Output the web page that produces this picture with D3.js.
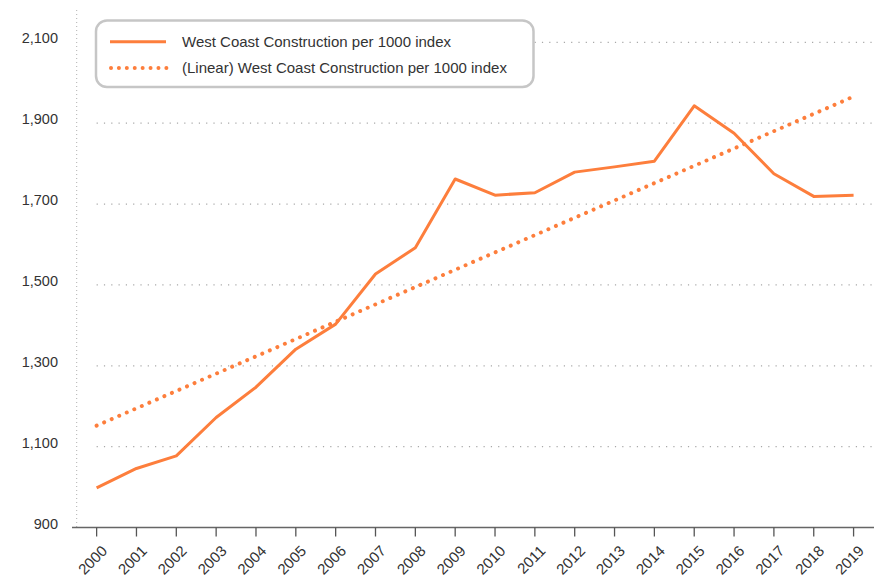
<!DOCTYPE html>
<html>
<head>
<meta charset="utf-8">
<script src="https://cdn.jsdelivr.net/npm/d3@7"></script>
<style>
  html, body { margin: 0; padding: 0; background: #fff; }
  svg { display: block; font-family: "Liberation Sans", Arial, Helvetica, sans-serif; }
</style>
</head>
<body>
<svg id="chart" width="876" height="579"></svg>
<script>
const years = ["2000","2001","2002","2003","2004","2005","2006","2007","2008","2009",
               "2010","2011","2012","2013","2014","2015","2016","2017","2018","2019"];
const values = [998, 1046, 1077, 1172, 1247, 1341, 1403, 1527, 1592, 1762,
                1722, 1728, 1779, 1792, 1806, 1943, 1875, 1775, 1719, 1722];
const trendYears = ["2000", "2019"];
const trendValues = [1152, 1966];
const yTicks = [900, 1100, 1300, 1500, 1700, 1900, 2100];
const seriesName = "West Coast Construction per 1000 index";
const trendName = "(Linear) West Coast Construction per 1000 index";

const color = "#fd7e3c";
const svg = d3.select("#chart");

const plotLeft = 76.7, plotRight = 873.5, plotTop = 10, plotBottom = 527.5;

const x = d3.scalePoint().domain(years).range([plotLeft, plotRight]).padding(0.5);
const y = d3.scaleLinear().domain([900, 2180]).range([plotBottom, plotTop]);

// gridlines
svg.append("g").selectAll("line").data(yTicks.filter(d => d > 900)).join("line")
  .attr("x1", x(years[0])).attr("x2", 876)
  .attr("y1", d => y(d)).attr("y2", d => y(d))
  .attr("stroke", "#a8a8a8").attr("stroke-width", 1.2)
  .attr("stroke-dasharray", "1.2 6.1");

// vertical dotted axis line
svg.append("line")
  .attr("x1", plotLeft).attr("x2", plotLeft).attr("y1", plotTop).attr("y2", plotBottom)
  .attr("stroke", "#b0b0b0").attr("stroke-width", 1)
  .attr("stroke-dasharray", "1 3");

// y labels
svg.append("g").selectAll("text").data(yTicks).join("text")
  .attr("x", 58).attr("y", d => y(d) - 4)
  .attr("dy", "0.35em")
  .attr("text-anchor", "end")
  .attr("font-size", 14.5).attr("fill", "#333")
  .text(d => d3.format(",")(d));

// x axis
const xAxis = svg.append("g").attr("transform", `translate(0,${plotBottom})`);
xAxis.append("line").attr("x1", 72).attr("x2", 874).attr("y1", 0).attr("y2", 0)
  .attr("stroke", "#666").attr("stroke-width", 1.5);
xAxis.selectAll("line.tick").data(years).join("line").attr("class", "tick")
  .attr("x1", d => x(d)).attr("x2", d => x(d)).attr("y1", 0).attr("y2", 9)
  .attr("stroke", "#555").attr("stroke-width", 1.3);
xAxis.selectAll("text").data(years).join("text")
  .attr("transform", d => `translate(${x(d) + 4},${17}) rotate(-45)`)
  .attr("text-anchor", "end").attr("dy", "0.7em")
  .attr("font-size", 15).attr("fill", "#333")
  .text(d => d);

// trend line
const trendData = trendYears.map((yr, i) => ({yr, v: trendValues[i]}));
svg.append("path").datum(trendData)
  .attr("d", d3.line().x(d => x(d.yr)).y(d => y(d.v)))
  .attr("fill", "none").attr("stroke", color).attr("stroke-width", 4)
  .attr("stroke-linecap", "round").attr("stroke-dasharray", "0.01 8.2");

// series line
const data = years.map((yr, i) => ({yr, v: values[i]}));
svg.append("path").datum(data)
  .attr("d", d3.line().x(d => x(d.yr)).y(d => y(d.v)))
  .attr("fill", "none").attr("stroke", color).attr("stroke-width", 3)
  .attr("stroke-linejoin", "round");

// legend
const lg = svg.append("g");
lg.append("rect").attr("x", 96).attr("y", 20.5).attr("width", 437.5).attr("height", 66.5)
  .attr("rx", 11).attr("fill", "#fff").attr("stroke", "#c6c6c6").attr("stroke-width", 2.5);
lg.append("line").attr("x1", 110).attr("x2", 166).attr("y1", 41.7).attr("y2", 41.7)
  .attr("stroke", color).attr("stroke-width", 3);
lg.append("line").attr("x1", 111).attr("x2", 167).attr("y1", 68).attr("y2", 68)
  .attr("stroke", color).attr("stroke-width", 4)
  .attr("stroke-linecap", "round").attr("stroke-dasharray", "0.01 7.9");
lg.append("text").attr("x", 182).attr("y", 41.7).attr("dy", "0.35em")
  .attr("font-size", 15).attr("fill", "#333").text(seriesName);
lg.append("text").attr("x", 182).attr("y", 68).attr("dy", "0.35em")
  .attr("font-size", 15).attr("fill", "#333").text(trendName);
</script>
</body>
</html>
